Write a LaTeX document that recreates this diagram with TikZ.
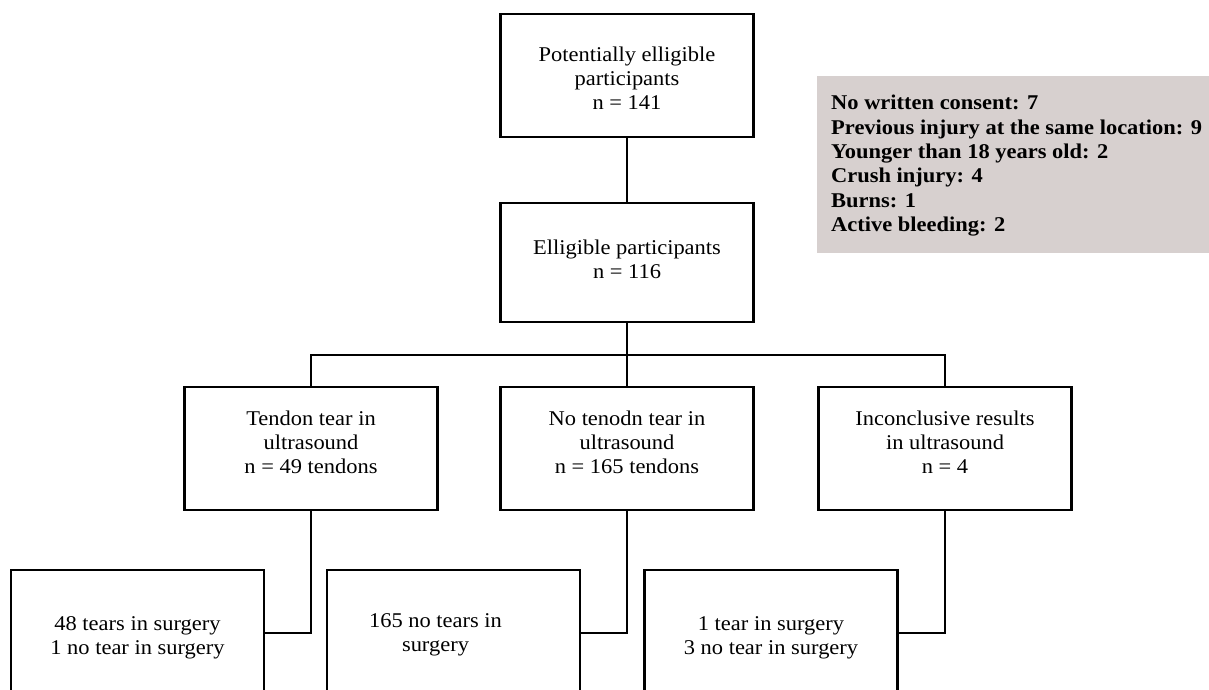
\documentclass[tikz,border=0pt]{standalone}
\usepackage{fontspec}
\setmainfont[FakeStretch=1.07]{Liberation Serif}
\definecolor{exclgray}{RGB}{215,208,207}
\begin{document}
\begin{tikzpicture}[x=1pt,y=-1pt,
  box/.style={draw=black, line width=2.4pt, align=center, inner sep=0pt,
    font=\fontsize{21}{24}\selectfont},
  topbox/.style={box, minimum width=253pt},
  lowbox/.style={box, minimum width=253pt, minimum height=126pt},
  link/.style={draw=black, line width=2.2pt},
  excl/.style={fill=exclgray, draw=none, minimum width=400pt, minimum height=177pt, inner sep=0pt},
  excltext/.style={align=left, inner sep=0pt, font=\fontsize{21}{24.4}\selectfont\bfseries}
]
\useasboundingbox (0,0) rectangle (1209,690);
\clip (0,0) rectangle (1209,690);

% exclusion box
\node[excl, anchor=north west] (exclbox) at (817,76) {};
\node[excltext, anchor=north west] (excltxt) at (831,95)
  {No written consent: 7\\
   Previous injury at the same location: 9\\
   Younger than 18 years old: 2\\
   Crush injury: 4\\
   Burns: 1\\
   Active bleeding: 2};

% top boxes
\node[topbox, minimum height=123pt, text height=68pt] (pot) at (627,75.5)
  {Potentially elligible\\ participants\\ n = 141};
\node[topbox, minimum height=119pt, text depth=6pt] (elig) at (627,262.5)
  {Elligible participants\\ n = 116};

% ultrasound level
\node[lowbox, minimum height=123pt, text depth=12pt] (tear) at (311,448.5)
  {Tendon tear in\\ ultrasound\\ n = 49 tendons};
\node[lowbox, minimum height=123pt, text depth=12pt] (notear) at (627,448.5)
  {No tenodn tear in\\ ultrasound\\ n = 165 tendons};
\node[lowbox, minimum height=123pt, text depth=12pt] (incon) at (945,448.5)
  {Inconclusive results\\ in ultrasound\\ n = 4};

% surgery level
\node[lowbox, text height=47pt] (surgA) at (137.5,633)
  {48 tears in surgery\\ 1 no tear in surgery};
\node[lowbox, label={[font=\fontsize{21}{24}\selectfont, align=center, xshift=-18pt, yshift=-2pt]center:{165 no tears in\\ surgery}}] (surgB) at (453.5,633) {};
\node[lowbox, text height=47pt] (surgC) at (771,633)
  {1 tear in surgery\\ 3 no tear in surgery};

% connectors
\draw[link] (pot.south) -- (elig.north);
\draw[link] (elig.south) -- (notear.north);
\draw[link] (tear.north) -- ++(0,-31) -| (incon.north);
\draw[link] (tear.south) |- (surgA.east);
\draw[link] (notear.south) |- (surgB.east);
\draw[link] (incon.south) |- (surgC.east);
\end{tikzpicture}
\end{document}
